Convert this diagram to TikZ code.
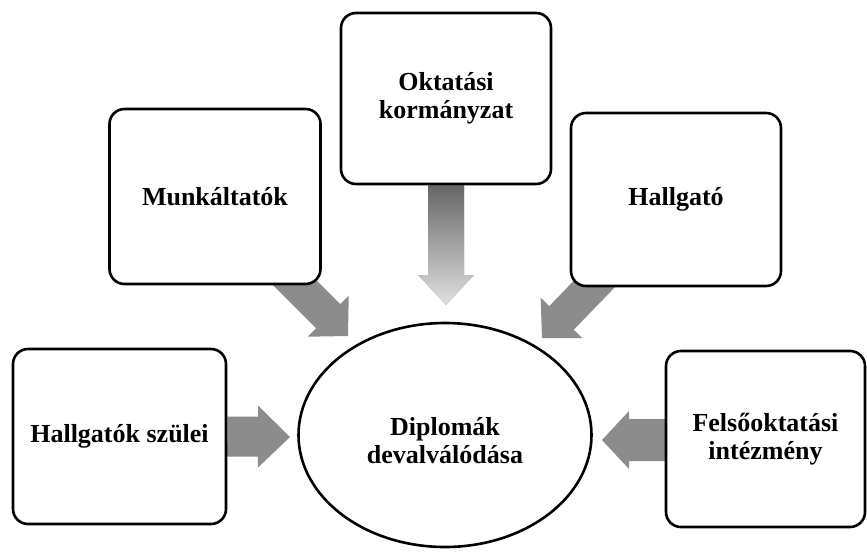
\documentclass[tikz,border=0pt]{standalone}
\usepackage{fontspec}
\setmainfont{Liberation Serif}
\usetikzlibrary{shapes.geometric,calc,backgrounds}
\newcommand\blockarrow[6][]{% options, from, to, shaft half width, head half width, head length
  \coordinate (ba-c) at ($(#3)!#6!(#2)$);
  \path[arrowfill,#1] ($(#2)!#4!90:(#3)$) -- ($(ba-c)!#4!90:(#3)$) -- ($(ba-c)!#5!90:(#3)$) -- (#3)
    -- ($(ba-c)!#5!-90:(#3)$) -- ($(ba-c)!#4!-90:(#3)$) -- ($(#2)!#4!-90:(#3)$) -- cycle;
}
\begin{document}
\begin{tikzpicture}[x=1pt,y=-1pt,
  txt/.style={align=center, font=\fontsize{26}{28}\selectfont\bfseries},
  box/.style={txt, draw, line width=2.6pt, rounded corners=15pt, fill=white, inner sep=2pt},
  arrowfill/.style={fill=black!45},
]
\useasboundingbox (0,0) rectangle (867,552);

\node[box, minimum width=210pt, minimum height=171pt] (okt) at (446,98.5) {Oktatási\\kormányzat};
\node[box, minimum width=211pt, minimum height=175pt] (munk) at (215,196.5) {Munkáltatók};
\node[box, minimum width=210pt, minimum height=173pt] (hallg) at (676,199.5) {Hallgató};
\node[box, minimum width=213pt, minimum height=175pt] (szul) at (119.5,436.5) {Hallgatók szülei};
\node[box, minimum width=199pt, minimum height=176pt] (felso) at (765.5,439) {Felsőoktatási\\intézmény};
\node[draw, ellipse, line width=2.6pt, fill=white, minimum width=293pt, minimum height=224pt] (dipl) at (445,435) {};
\node[txt] (dipltext) at (445,441) {Diplomák\\devalválódása};

\coordinate (m0) at (285,273);
\coordinate (m1) at (348,336);
\coordinate (h0) at (605,273);
\coordinate (h1) at (542,338);
\coordinate (o1) at (446,305);
\coordinate (s1) at (290,437);
\coordinate (f0) at (665,440);
\coordinate (f1) at (602,440);

\begin{scope}[on background layer]
  \blockarrow[top color=black!60, bottom color=black!12]{okt.south}{o1}{18pt}{28pt}{30pt}
  \blockarrow{m0}{m1}{17pt}{29pt}{28pt}
  \blockarrow{h0}{h1}{17pt}{29pt}{28pt}
  \blockarrow{szul.east}{s1}{20pt}{31pt}{32pt}
  \blockarrow{f0}{f1}{21pt}{29pt}{27pt}
\end{scope}
\end{tikzpicture}
\end{document}
